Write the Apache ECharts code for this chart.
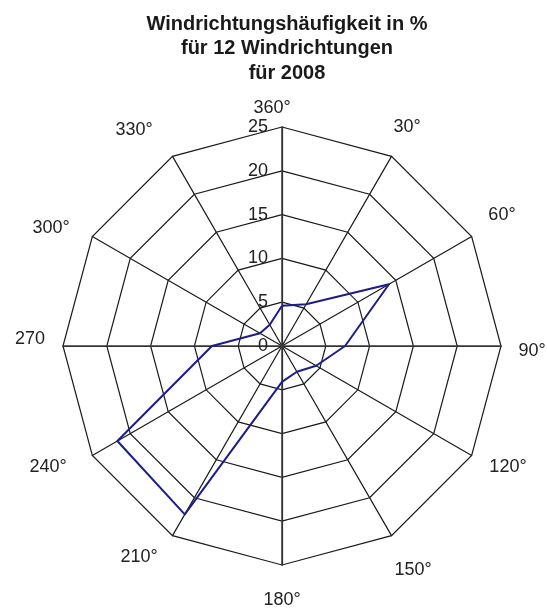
<!DOCTYPE html>
<html>
<head>
<meta charset="utf-8">
<script src="https://cdn.jsdelivr.net/npm/echarts@6/dist/echarts.min.js"></script>
<style>
html,body{margin:0;padding:0;background:#fff;}
#c{width:547px;height:610px;}
</style>
</head>
<body>
<div id="c"></div>
<script>
// Data (clockwise from north)
var directions = ['360°','30°','60°','90°','120°','150°','180°','210°','240°','270','300°','330°'];
var values = [4.6, 5.5, 14.1, 7.2, 4.5, 3.4, 4.1, 22.2, 21.7, 8.0, 2.9, 2.8];
var radiusTicks = [0, 5, 10, 15, 20, 25];
var maxValue = 25;
var titleLines = ['Windrichtungshäufigkeit in %', 'für 12 Windrichtungen', 'für 2008'];

// ECharts radar goes counter-clockwise; reorder to draw clockwise
var order = [0];
for (var i = directions.length - 1; i >= 1; i--) order.push(i);
var indicators = order.map(function (k) { return { name: directions[k], max: maxValue, min: 0 }; });
var seriesValues = order.map(function (k) { return values[k]; });

var crossNames = ['360°', '270', '180°', '90°'];
var crossIndicators = crossNames.map(function (n) { return { name: n, max: maxValue, min: 0 }; });

var center = [282, 346];
var radius = 219;

// label fine placement (padding: top, right, bottom, left), style only
var namePads = [
  [2, 20, 0, 0],   // 360
  [0, 0, 24, 11],  // 30
  [0, 0, 23, 26],  // 60
  [10, 0, 0, 22],  // 90
  [3, 0, 0, 38],   // 120
  [34, 0, 0, 23],  // 150
  [30, 0, 0, 0],   // 180
  [8, 47, 0, 0],   // 210
  [3, 54, 0, 0],   // 240
  [0, 26, 14, 0],  // 270
  [3, 48, 0, 0],   // 300
  [0, 57, 18, 0]   // 330
];
var rich = {};
namePads.forEach(function (p, k) {
  rich['p' + k] = {
    padding: p,
    fontSize: 18,
    fontFamily: 'Liberation Sans, Arial, sans-serif',
    color: '#222'
  };
});

var chart = echarts.init(document.getElementById('c'), null, { renderer: 'canvas' });
chart.setOption({
  animation: false,
  backgroundColor: '#fff',
  title: {
    text: titleLines.join('\n'),
    left: 282,
    textAlign: 'center',
    top: 7,
    textStyle: {
      fontFamily: 'Liberation Sans, Arial, sans-serif',
      fontWeight: 'bold',
      fontSize: 20,
      lineHeight: 24.5,
      color: '#1a1a1a'
    }
  },
  radar: [{
    center: center,
    radius: radius,
    startAngle: 90,
    shape: 'polygon',
    splitNumber: 5,
    indicator: indicators,
    nameGap: 20,
    axisName: {
      align: 'center',
      verticalAlign: 'middle',
      color: '#222',
      fontFamily: 'Liberation Sans, Arial, sans-serif',
      fontSize: 18,
      formatter: function (name) {
        var k = directions.indexOf(name);
        return '{p' + k + '|' + name + '}';
      },
      rich: rich
    },
    axisLine: { lineStyle: { color: '#1a1a1a', width: 1.2 } },
    splitLine: { lineStyle: { color: '#1a1a1a', width: 1.2 } },
    splitArea: { show: false },
    axisTick: { show: false },
    axisLabel: { show: false }
  }, {
    center: center,
    radius: radius,
    startAngle: 90,
    shape: 'polygon',
    splitNumber: 5,
    indicator: crossIndicators,
    axisName: { show: false },
    axisLine: { lineStyle: { color: '#3a3a3a', width: 1.5 } },
    splitLine: { show: false },
    splitArea: { show: false },
    axisTick: { show: false },
    axisLabel: { show: false }
  }],
  polar: { center: center, radius: radius },
  angleAxis: {
    type: 'category',
    data: directions,
    startAngle: 90,
    clockwise: true,
    show: false
  },
  radiusAxis: {
    min: 0,
    max: maxValue,
    interval: 5,
    axisLine: { show: false },
    axisTick: { show: false },
    splitLine: { show: false },
    axisLabel: {
      show: true,
      margin: 14,
      padding: [5, 0, 0, 0],
      color: '#222',
      fontFamily: 'Liberation Sans, Arial, sans-serif',
      fontSize: 18
    }
  },
  series: [{
    type: 'radar',
    radarIndex: 0,
    symbol: 'none',
    lineStyle: { color: '#1c1c8a', width: 2 },
    data: [{ value: seriesValues, name: 'Windrichtung' }]
  }]
});
</script>
</body>
</html>
